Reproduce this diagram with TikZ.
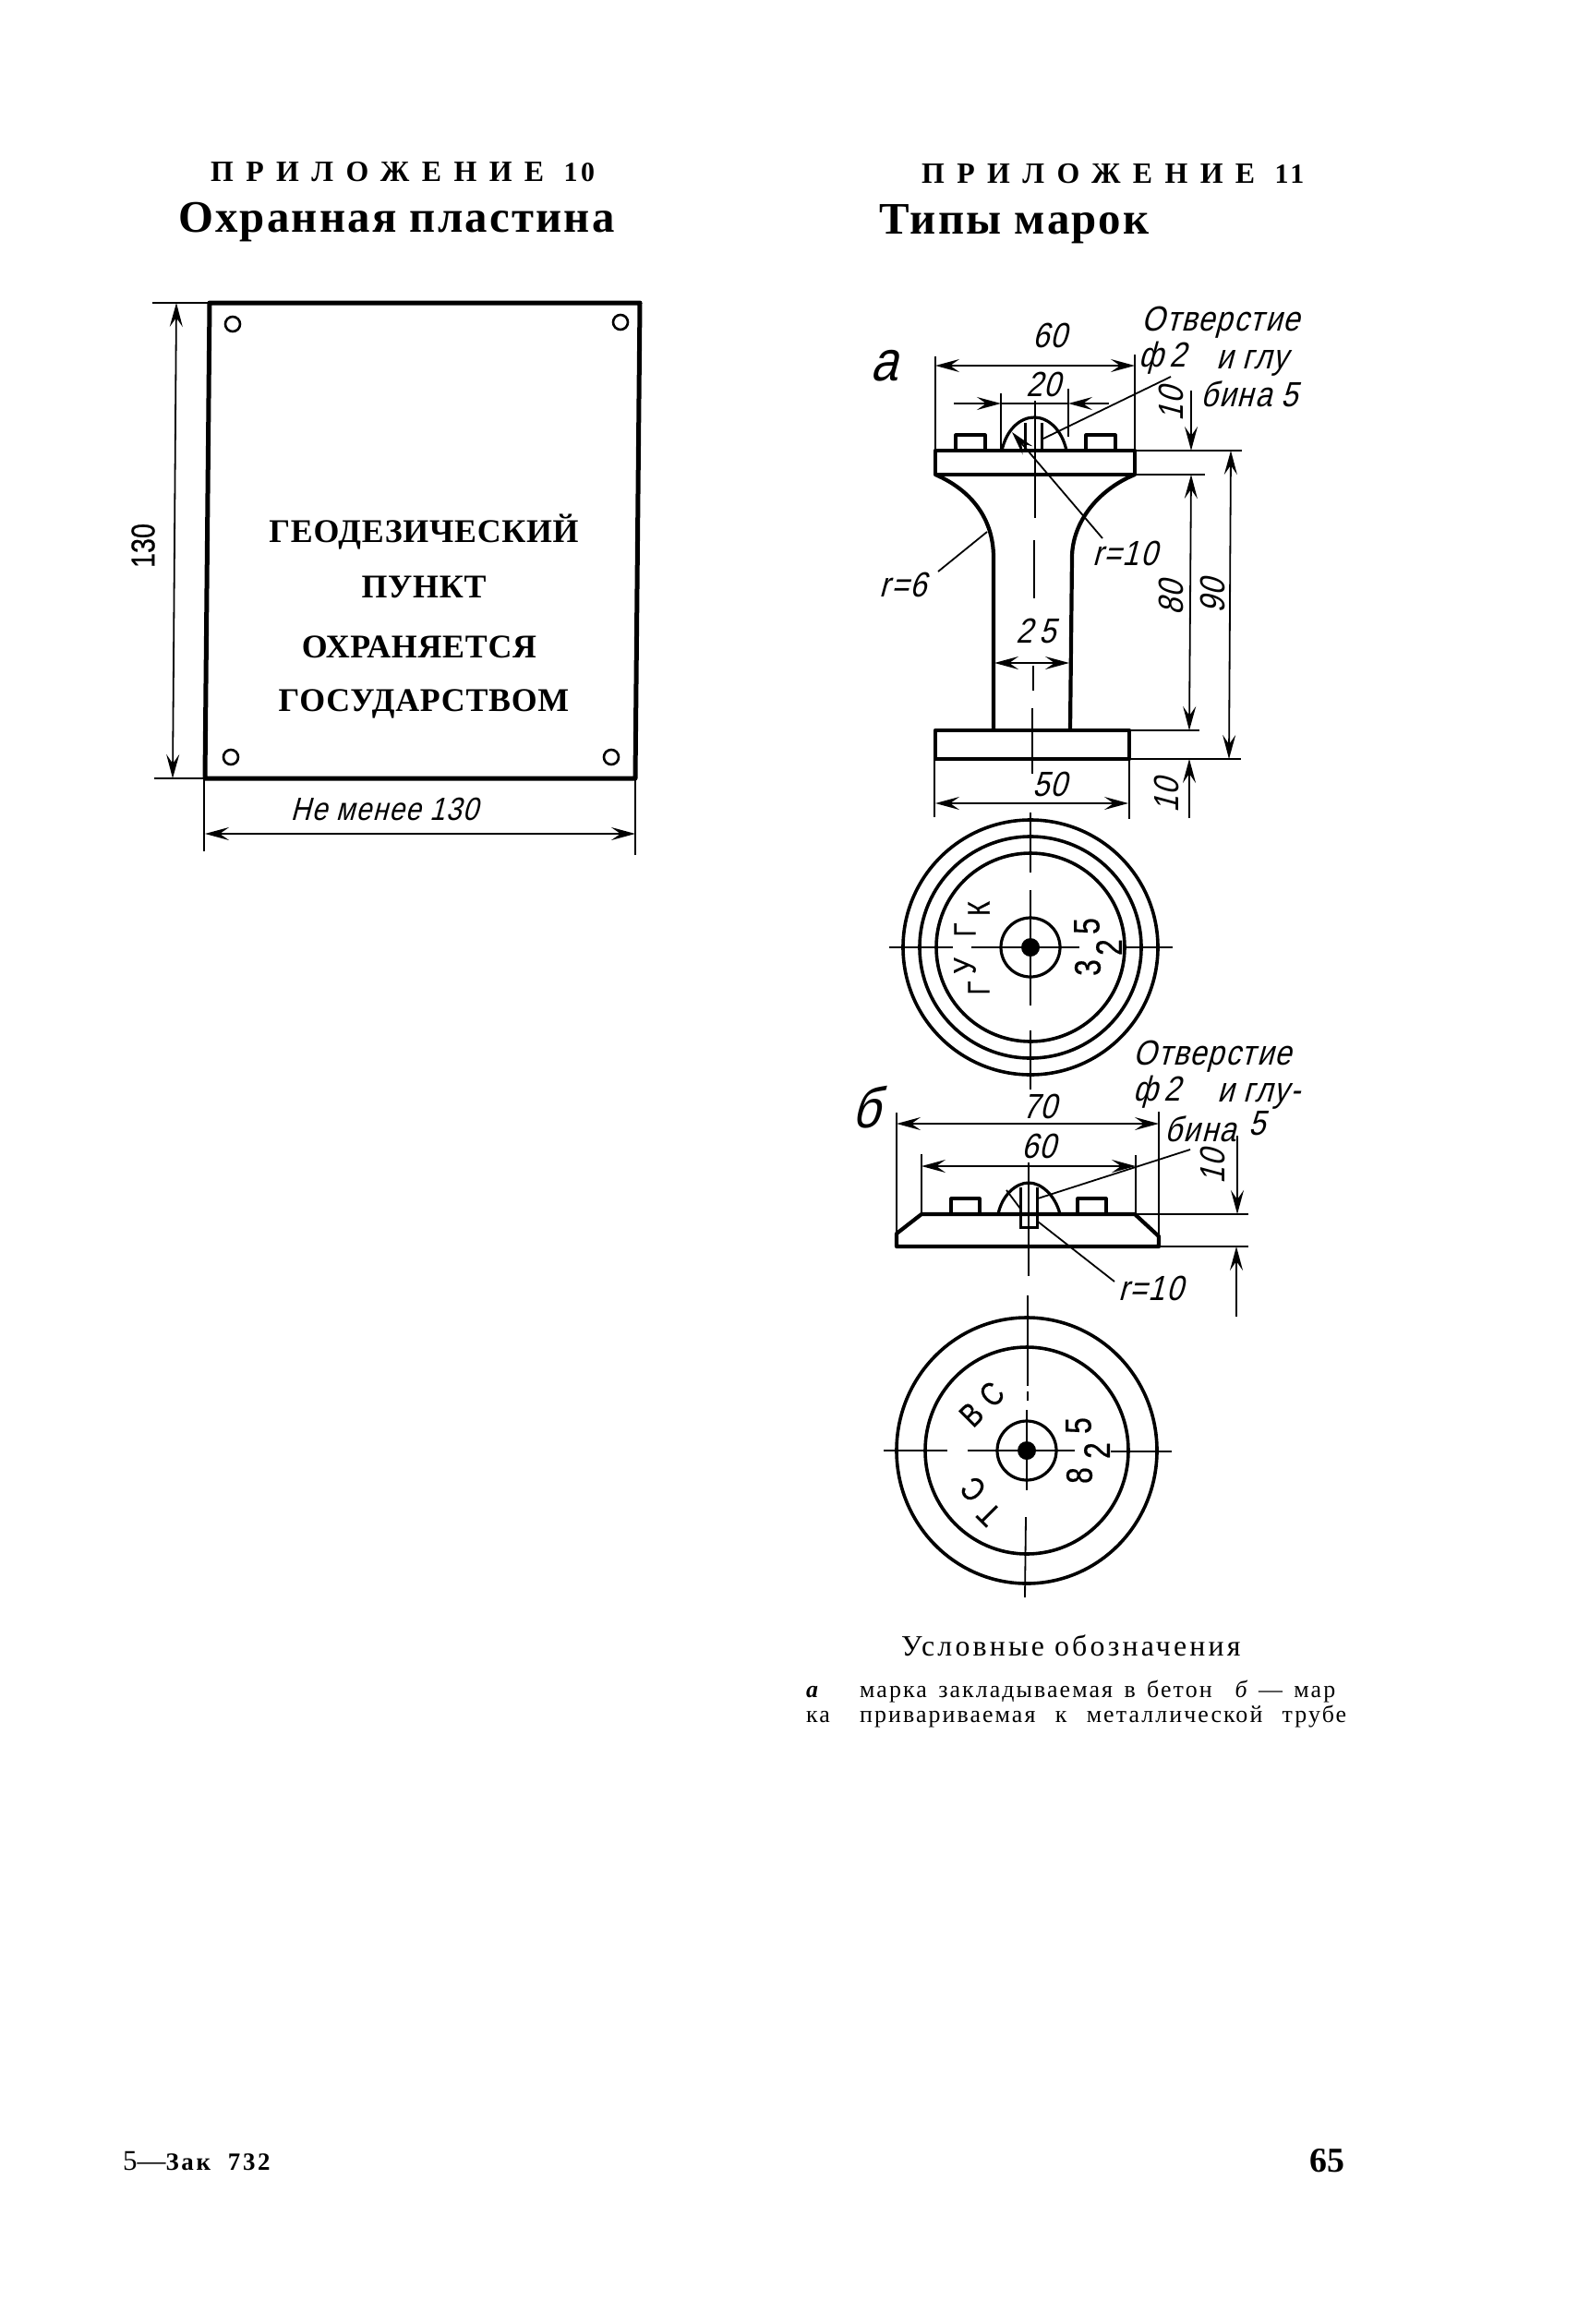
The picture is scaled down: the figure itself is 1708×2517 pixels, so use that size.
\documentclass[tikz,border=0pt]{standalone}
\usepackage{fontspec}
\usepackage{tikz}
\usetikzlibrary{arrows.meta}
\setmainfont{Liberation Serif}
\newfontfamily\capsfont[LetterSpace=42]{Liberation Serif}
\newfontfamily\numfont[LetterSpace=12]{Liberation Serif}
\newfontfamily\titlefont[LetterSpace=4.5]{Liberation Serif}
\newfontfamily\signfont[LetterSpace=2]{Liberation Serif}
\newfontfamily\legendfont[LetterSpace=10]{Liberation Serif}
\newfontfamily\rowfont[LetterSpace=8]{Liberation Serif}
\newfontfamily\handfont[FakeStretch=0.85,FakeSlant=0.27,LetterSpace=4]{Liberation Sans}
\newfontfamily\stampfont[FakeStretch=0.8,FakeBold=0.5]{Liberation Sans}
\newcommand{\px}[1]{\fontsize{#1}{#1}\selectfont}

\begin{document}
\begin{tikzpicture}[x=1bp,y=-1bp]
    \tikzstyle{outline}=[line width=4.2bp,line join=round]
    \tikzstyle{thin}=[line width=1.8bp]
    \tikzstyle{dimline}=[line width=1.8bp,{Stealth[length=26bp,width=14bp,inset=10bp]}-{Stealth[length=26bp,width=14bp,inset=10bp]}]
    \tikzstyle{tipend}=[line width=1.8bp,-{Stealth[length=26bp,width=14bp,inset=10bp]}]
    \tikzstyle{hand}=[inner sep=0pt,font=\handfont\px{38}]
    \tikzstyle{stamp}=[inner sep=0pt,font=\stampfont\px{34}]
    \tikzstyle{digit}=[inner sep=0pt,rotate=90,font=\stampfont\px{40}]
    \tikzstyle{sign}=[inner sep=0pt,font=\signfont\bfseries\px{36}]
    \tikzstyle{head}=[inner sep=0pt,anchor=base west,font=\capsfont\bfseries\px{32}]
    \tikzstyle{title}=[inner sep=0pt,anchor=base west,font=\titlefont\bfseries\px{49}]
    \tikzstyle{legend}=[inner sep=0pt,anchor=base west,font=\rowfont\px{26}]
    \path[fill=white,use as bounding box] (0,0) rectangle (1708,2517);

    \node[head] (head_10) at (228,196) {ПРИЛОЖЕНИЕ {\numfont\bfseries\px{30}10}};
    \node[title] (title_10) at (193,251) {Охранная пластина};
    \node[head] (head_11) at (998,198) {ПРИЛОЖЕНИЕ {\numfont\bfseries\px{30}11}};
    \node[title] (title_11) at (952,253) {Типы марок};

    \draw[outline,line width=5bp] (227,328) -- (693,328) -- (688,843) -- (222,843) -- cycle;
    \draw[line width=2.6bp] (252,351) circle (8);
    \draw[line width=2.6bp] (672,349) circle (8);
    \draw[line width=2.6bp] (250,820) circle (8);
    \draw[line width=2.6bp] (662,820) circle (8);
    \node[sign] (sign_1) at (459,576) {ГЕОДЕЗИЧЕСКИЙ};
    \node[sign] (sign_2) at (459,636) {ПУНКТ};
    \node[sign] (sign_3) at (454,701) {ОХРАНЯЕТСЯ};
    \node[sign] (sign_4) at (459,762) {ГОСУДАРСТВОМ};
    \draw[thin] (165,328) -- (227,328);
    \draw[thin] (167,843) -- (222,843);
    \draw[dimline] (191,328) -- (187,843);
    \node[inner sep=0pt,rotate=90,font=\stampfont\px{36}] (size_h) at (155,591) {130};
    \draw[thin] (221,843) -- (221,922);
    \draw[thin] (688,843) -- (688,926);
    \draw[dimline] (222,903) -- (688,903);
    \node[hand] (size_w) at (416,876) {\px{35}Не менее 130};

    \node[hand] (mark_a) at (957,396) {\px{62}а};
    \draw[outline] (1013,488) rectangle (1229,514);
    \draw[outline] (1013,514) .. controls (1050,530) and (1076,560) .. (1076,604) -- (1076,791);
    \draw[outline] (1229,514) .. controls (1190,530) and (1161,565) .. (1161,604) -- (1159,791);
    \draw[outline] (1013,791) rectangle (1223,822);
    \draw[outline,line width=3.2bp] (1035,488) -- (1035,471) -- (1067,471) -- (1067,488);
    \draw[outline,line width=3.2bp] (1176,488) -- (1176,471) -- (1208,471) -- (1208,488);
    \draw[outline,line width=3.2bp] (1085,488) .. controls (1090,465) and (1105,452) .. (1120,452) .. controls (1135,452) and (1150,465) .. (1155,488);
    \draw[line width=3bp] (1110,458) -- (1110,487);
    \draw[line width=3bp] (1128,458) -- (1128,487);
    \draw[thin] (1121,434) -- (1121,561);
    \draw[thin] (1120,585) -- (1120,648);
    \draw[thin] (1119,721) -- (1119,748);
    \draw[thin] (1118,767) -- (1118,838);
    \draw[thin] (1013,386) -- (1013,488);
    \draw[thin] (1229,384) -- (1229,488);
    \draw[dimline] (1013,396) -- (1229,396);
    \draw[thin] (1084,426) -- (1084,488);
    \draw[thin] (1157,421) -- (1157,473);
    \draw[tipend] (1033,437) -- (1084,437);
    \draw[tipend] (1201,437) -- (1157,437);
    \draw[thin] (1084,437) -- (1157,437);
    \draw[thin] (1229,488) -- (1345,488);
    \draw[thin] (1229,514) -- (1305,514);
    \draw[thin] (1223,791) -- (1299,791);
    \draw[thin] (1223,822) -- (1344,822);
    \draw[tipend] (1290,423) -- (1290,488);
    \draw[dimline] (1290,514) -- (1288,791);
    \draw[tipend] (1288,886) -- (1288,822);
    \draw[dimline] (1333,488) -- (1331,822);
    \draw[dimline] (1077,718) -- (1158,718);
    \draw[thin] (1012,822) -- (1012,885);
    \draw[thin] (1223,822) -- (1223,887);
    \draw[dimline] (1013,870) -- (1222,870);
    \draw[thin] (1268,408) -- (1130,475);
    \draw[tipend] (1194,583) -- (1096,468);
    \draw[thin] (1016,619) -- (1069,576);
    \node[hand] (a_60) at (1137,363) {60};
    \node[hand] (a_20) at (1130,416) {20};
    \node[hand] (a_hole1) at (1322,349) {Отверстие};
    \node[hand] (a_hole2) at (1259,388) {ф\,2};
    \node[hand] (a_hole3) at (1356,393) {и глу};
    \node[hand] (a_hole4) at (1353,427) {бина 5};
    \node[hand,rotate=90] (a_10top) at (1268,438) {10};
    \node[hand] (a_r10) at (1218,599) {r=10};
    \node[hand] (a_r6) at (978,633) {r=6};
    \node[hand] (a_25) at (1122,683) {2\,5};
    \node[hand,rotate=90] (a_80) at (1268,648) {80};
    \node[hand,rotate=90] (a_90) at (1313,646) {90};
    \node[hand] (a_50) at (1137,849) {50};
    \node[hand,rotate=90] (a_10low) at (1263,862) {10};

    \draw[outline,line width=3.6bp] (1116,1026) circle (138);
    \draw[outline,line width=3.6bp] (1116,1026) circle (120);
    \draw[outline,line width=3.6bp] (1116,1026) circle (102);
    \draw[outline,line width=3.2bp] (1116,1026) circle (32);
    \fill (1116,1026) circle (10);
    \draw[thin] (1116,880) -- (1116,945);
    \draw[thin] (1116,964) -- (1116,1089);
    \draw[thin] (1116,1116) -- (1116,1180);
    \draw[thin] (963,1026) -- (1032,1026);
    \draw[thin] (1052,1026) -- (1169,1026);
    \draw[thin] (1216,1026) -- (1270,1026);
    \node[stamp,rotate=90] (a_g1) at (1060,1070) {Г};
    \node[stamp,rotate=90] (a_u) at (1045,1046) {У};
    \node[stamp,rotate=90] (a_g2) at (1045,1007) {Г};
    \node[stamp,rotate=90] (a_k) at (1060,984) {К};
    \node[digit] (a_3) at (1178,1048) {3};
    \node[digit] (a_2) at (1201,1026) {2};
    \node[digit] (a_5) at (1177,1003) {5};

    \node[hand] (mark_b) at (938,1199) {\px{62}б};
    \draw[outline] (971,1350) -- (1255,1350) -- (1255,1339) -- (1229,1315) -- (998,1315) -- (971,1336) -- cycle;
    \draw[outline,line width=3.2bp] (1030,1315) -- (1030,1298) -- (1061,1298) -- (1061,1315);
    \draw[outline,line width=3.2bp] (1167,1315) -- (1167,1298) -- (1198,1298) -- (1198,1315);
    \draw[outline,line width=3.2bp] (1081,1315) .. controls (1085,1295) and (1100,1281) .. (1114,1281) .. controls (1128,1281) and (1143,1295) .. (1148,1315);
    \draw[line width=3bp] (1105,1286) -- (1105,1329) -- (1123,1329) -- (1123,1286);
    \draw[thin] (1114,1259) -- (1114,1382);
    \draw[thin] (1113,1403) -- (1113,1501);
    \draw[thin] (971,1205) -- (971,1336);
    \draw[thin] (1255,1204) -- (1255,1339);
    \draw[dimline] (971,1217) -- (1255,1217);
    \draw[thin] (998,1250) -- (998,1315);
    \draw[thin] (1230,1251) -- (1230,1315);
    \draw[dimline] (998,1263) -- (1230,1263);
    \draw[thin] (1229,1315) -- (1352,1315);
    \draw[thin] (1255,1350) -- (1352,1350);
    \draw[tipend] (1340,1230) -- (1340,1315);
    \draw[tipend] (1339,1426) -- (1339,1350);
    \draw[thin] (1289,1245) -- (1124,1298);
    \draw[thin] (1207,1388) -- (1124,1323);
    \draw[thin] (1090,1289) -- (1105,1309);
    \node[hand] (b_70) at (1126,1198) {70};
    \node[hand] (b_60) at (1125,1241) {60};
    \node[hand] (b_hole1) at (1313,1144) {Отверстие};
    \node[hand] (b_hole2) at (1253,1183) {ф\,2};
    \node[hand] (b_hole3) at (1363,1187) {и глу-};
    \node[hand] (b_hole4) at (1300,1223) {бина};
    \node[hand] (b_hole5) at (1361,1217) {5};
    \node[hand,rotate=90] (b_10) at (1313,1264) {10};
    \node[hand] (b_r10) at (1246,1395) {r=10};

    \draw[outline,line width=3.6bp] (1112,1571) ellipse [x radius=141,y radius=144];
    \draw[outline,line width=3.6bp] (1112,1571) ellipse [x radius=110,y radius=112];
    \draw[outline,line width=3.2bp] (1112,1571) circle (32);
    \fill (1112,1571) circle (10);
    \draw[thin] (1113,1507) -- (1113,1517);
    \draw[thin] (1112,1527) -- (1112,1614);
    \draw[thin] (1111,1643) -- (1110,1730);
    \draw[thin] (957,1571) -- (1026,1571);
    \draw[thin] (1048,1571) -- (1164,1571);
    \draw[thin] (1203,1572) -- (1269,1572);
    \node[stamp,rotate=45] (b_v) at (1052,1532) {\px{36}В};
    \node[stamp,rotate=45] (b_c1) at (1074,1510) {\px{36}С};
    \node[stamp,rotate=135] (b_t) at (1071,1640) {\px{36}Т};
    \node[stamp,rotate=135] (b_c2) at (1054,1613) {\px{36}С};
    \node[digit] (b_8) at (1169,1598) {8};
    \node[digit] (b_2) at (1188,1571) {2};
    \node[digit] (b_5) at (1168,1544) {5};

    \node[legend,font=\legendfont\px{32}] (legend_head) at (976,1793) {Условные обозначения};
    \node[legend,font=\fontspec{Liberation Serif}\bfseries\itshape\px{26}] (legend_a) at (873,1838) {а};
    \node[legend] (legend_1) at (931,1838) {\makebox[515bp][s]{марка закладываемая в бетон \ {\itshape б} — мар}};
    \node[legend] (legend_ka) at (873,1865) {ка};
    \node[legend] (legend_2) at (931,1865) {\makebox[527bp][s]{привариваемая к металлической трубе}};

    \node[inner sep=0pt,anchor=base west,font=\px{31}] (foot_left) at (133,2350) {5—{\legendfont\bfseries\px{27}Зак\ \ 732}};
    \node[inner sep=0pt,anchor=base east,font=\bfseries\px{38}] (foot_page) at (1457,2352) {65};
  \end{tikzpicture}
\end{document}
